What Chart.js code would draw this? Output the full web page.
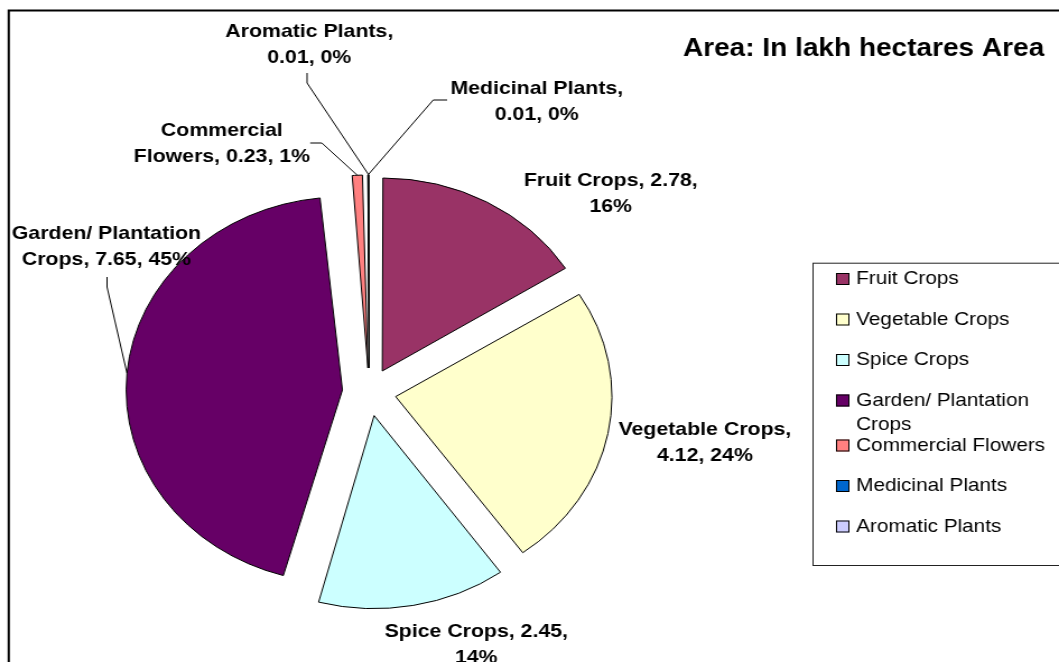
<!DOCTYPE html>
<html>
<head>
<meta charset="utf-8">
<script src="https://cdn.jsdelivr.net/npm/chart.js@4/dist/chart.umd.min.js"></script>
<style>
  html, body { margin: 0; padding: 0; background: #fff; overflow: hidden; }
  /* the reference is stretched wider than tall, so the whole chart is scaled on x */
  #wrap { width: 945px; height: 662px; transform: scaleX(1.12063); transform-origin: 0 0; }
</style>
</head>
<body>
<div id="wrap"><canvas id="areaChart"></canvas></div>
<script>
const CATEGORIES = ['Fruit Crops', 'Vegetable Crops', 'Spice Crops', 'Garden/ Plantation Crops', 'Commercial Flowers', 'Medicinal Plants', 'Aromatic Plants'];
const AREA_LAKH_HA = [2.78, 4.12, 2.45, 7.65, 0.23, 0.01, 0.01];
const PERCENT_LABELS = ['16%', '24%', '14%', '45%', '1%', '0%', '0%'];
const SLICE_COLORS = ['#993366', '#FFFFCC', '#CCFFFF', '#660066', '#FF8080', '#0066CC', '#CCCCFF'];
const CHART_TITLE = 'Area: In lakh hectares Area';

/*---- layout (unstretched canvas px) -----------------------*/
const FONT = "'Liberation Sans', Arial, sans-serif";
const PIE_RADIUS = 193;
const EXPLODE = 24;
// x = centre of label, y = first line, wrap = max line width, leader = label side of the line
const LABEL_LAYOUT = [
  {x: 545, y: 181, wrap: 172, leader: null},
  {x: 629, y: 430, wrap: 162, leader: null},
  {x: 425, y: 632, wrap: 182, leader: null},
  {x: 95, y: 234, wrap: 195, leader: [[95.5, 277], [95.5, 287]]},
  {x: 198, y: 131, wrap: 172, leader: [[276.8, 143], [287.2, 143]]},
  {x: 479, y: 89, wrap: 172, leader: [[399, 100], [386.6, 100]]},
  {x: 276, y: 32, wrap: 172, leader: [[274, 73], [274, 83]]}
];
const LEGEND = {left: 725, top: 262.7, bottom: 565, boxX: 746, textX: 764, firstY: 279, step: 40.5, wrap: 185};

let wrapText = (ctx, text, maxWidth) => {
  let words = text.split(' ');
  let lines = [];
  let line = '';

  for (let i = 0; i < words.length; i ++) {
    let test = line ? line + ' ' + words[i] : words[i];
    if (line && ctx.measureText(test).width > maxWidth) {
      lines.push(line);
      line = words[i];
    } else {
      line = test;
    }
  }
  lines.push(line);

  return lines;
}

// Chart.js grows exploded slices by offset/4 * fix; take it back so all slices keep one radius
const explodePlugin = {
  id: 'explode',
  beforeDatasetDraw: (chart, args) => {
    let radius = args.meta.controller.outerRadius;
    args.meta.data.forEach((arc) => {
      let shift = (arc.options.offset || 0) / 4;
      let fix = 1 - Math.sin(Math.min(Math.PI, arc.circumference));
      arc.outerRadius = radius - shift * fix;
    });
  }
};

const annotationsPlugin = {
  id: 'annotations',
  afterDraw: (chart) => {
    let ctx = chart.ctx;
    let meta = chart.getDatasetMeta(0);
    let radius = meta.controller.outerRadius;

    ctx.save();

    // frame
    ctx.strokeStyle = '#000';
    ctx.lineWidth = 2;
    ctx.strokeRect(7.8, 10.5, chart.width + 40, chart.height + 40);

    // leader lines
    ctx.lineWidth = 1;
    LABEL_LAYOUT.forEach((layout, i) => {
      if (!layout.leader) return;
      let arc = meta.data[i];
      let mid = (arc.startAngle + arc.endAngle) / 2;
      let dist = radius + (arc.options.offset || 0) / 4;
      ctx.beginPath();
      ctx.moveTo(layout.leader[0][0], layout.leader[0][1]);
      for (let k = 1; k < layout.leader.length; k ++) {
        ctx.lineTo(layout.leader[k][0], layout.leader[k][1]);
      }
      ctx.lineTo(arc.x + Math.cos(mid) * dist, arc.y + Math.sin(mid) * dist);
      ctx.stroke();
    });

    // data labels
    ctx.fillStyle = '#000';
    ctx.font = 'bold 19px ' + FONT;
    ctx.textAlign = 'center';
    ctx.textBaseline = 'middle';
    LABEL_LAYOUT.forEach((layout, i) => {
      let text = CATEGORIES[i] + ', ' + AREA_LAKH_HA[i] + ', ' + PERCENT_LABELS[i];
      let lines = wrapText(ctx, text, layout.wrap);
      lines.forEach((line, k) => {
        ctx.fillText(line, layout.x, layout.y + k * 26);
      });
    });

    // title
    ctx.font = 'bold 25px ' + FONT;
    ctx.fillText(CHART_TITLE, 770.6, 49);

    // legend
    ctx.strokeStyle = '#222';
    ctx.lineWidth = 1;
    ctx.strokeRect(LEGEND.left + 0.5, LEGEND.top + 0.5, 400, LEGEND.bottom - LEGEND.top);
    ctx.font = '18.5px ' + FONT;
    ctx.textAlign = 'left';
    let y = LEGEND.firstY;
    CATEGORIES.forEach((name, i) => {
      let lines = wrapText(ctx, name, LEGEND.wrap);
      ctx.fillStyle = SLICE_COLORS[i];
      ctx.fillRect(LEGEND.boxX, y - 6, 12, 12);
      ctx.strokeStyle = '#000';
      ctx.strokeRect(LEGEND.boxX + 0.5, y - 5.5, 11, 11);
      ctx.fillStyle = '#000';
      lines.forEach((line, k) => {
        ctx.fillText(line, LEGEND.textX, y + k * 24.5);
      });
      y += LEGEND.step + (lines.length - 1) * 4.5;
    });

    ctx.restore();
  }
};

new Chart(
  document.getElementById('areaChart'),
  {
    type: 'pie',
    data: {
      labels: CATEGORIES,
      datasets: [{
        data: AREA_LAKH_HA,
        backgroundColor: SLICE_COLORS,
        borderColor: '#000',
        borderWidth: 1,
        borderJoinStyle: 'miter',
        offset: EXPLODE * 4,
        hoverOffset: 0,
        radius: PIE_RADIUS
      }]
    },
    options: {
      responsive: true,
      maintainAspectRatio: false,
      animation: false,
      events: [],
      layout: {padding: {left: 0, right: 286, top: 122, bottom: 0}},
      plugins: {
        legend: {display: false},
        tooltip: {enabled: false}
      }
    },
    plugins: [explodePlugin, annotationsPlugin]
  }
);
</script>
</body>
</html>
